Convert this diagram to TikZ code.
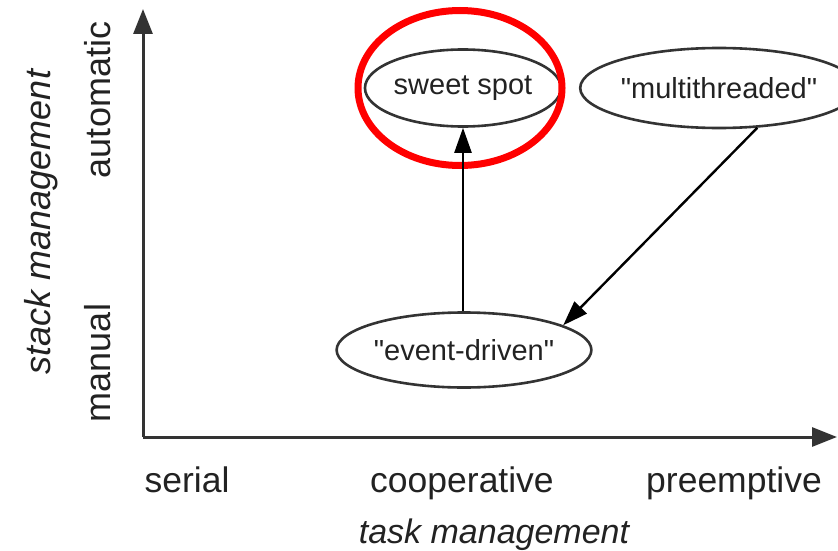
\documentclass[tikz,border=0pt]{standalone}
\usepackage{fontspec}
\setmainfont{Liberation Sans}
\usetikzlibrary{arrows.meta,shapes.geometric}

\definecolor{ink}{HTML}{222222}
\definecolor{linegray}{HTML}{333333}

\tikzset{
  axisline/.style={draw=linegray, line width=3pt, -{Triangle[length=25pt,width=19pt]}},
  link/.style={draw=black, line width=2.4pt, -{Triangle[length=25pt,width=17pt]}},
  bubble/.style={ellipse, draw=linegray, line width=2.6pt, inner sep=0pt,
    text=ink, font=\fontsize{29}{33}\selectfont},
  ticklabel/.style={text=ink, font=\fontsize{35.5}{40}\selectfont, inner sep=0pt},
  axistitle/.style={text=ink, font=\fontsize{34}{38}\selectfont\itshape, inner sep=0pt},
  highlight/.style={ellipse, draw=red, line width=7pt, inner sep=0pt}
}

\begin{document}
\begin{tikzpicture}[x=1pt,y=-1pt]
  \useasboundingbox (0,0) rectangle (838,551);

  % axes
  \coordinate (origin) at (143,437);
  \coordinate (ytop) at (143,9);
  \coordinate (xend) at (837,437);
  \draw[axisline] (origin) -- (ytop);
  \draw[axisline] (origin) -- (xend);

  % design points
  \node[bubble, minimum width=185pt, minimum height=77pt] (sweet) at (463,88) {sweet spot};
  \node[bubble, minimum width=232pt, minimum height=80pt] (mt) at (719,88) {\textquotedbl multithreaded\textquotedbl};
  \node[bubble, minimum width=207pt, minimum height=75pt] (ed) at (464,350) {\textquotedbl event-driven\textquotedbl};

  % highlight ring
  \node[highlight, minimum width=204pt, minimum height=155pt] (ring) at (460,88) {};

  % transitions
  \draw[link] (ed.north -| sweet.south) -- (sweet.south);
  \draw[link] (mt.-46) -- (ed.14);

  % horizontal axis labels
  \node[ticklabel, anchor=base] (serial) at (187,492) {serial};
  \node[ticklabel, anchor=base] (coop) at (462,492) {cooperative};
  \node[ticklabel, anchor=base] (pre) at (734,492) {preemptive};
  \node[axistitle, anchor=base] (task) at (494,543) {task management};

  % vertical axis labels
  \node[ticklabel, rotate=90, anchor=base, font=\fontsize{36}{40}\selectfont] (manual) at (110,363) {manual};
  \node[ticklabel, rotate=90, anchor=base, font=\fontsize{36}{40}\selectfont] (auto) at (110,100) {automatic};
  \node[axistitle, rotate=90, font=\fontsize{36}{40}\selectfont\itshape] (stack) at (41,222) {stack management};
\end{tikzpicture}
\end{document}
